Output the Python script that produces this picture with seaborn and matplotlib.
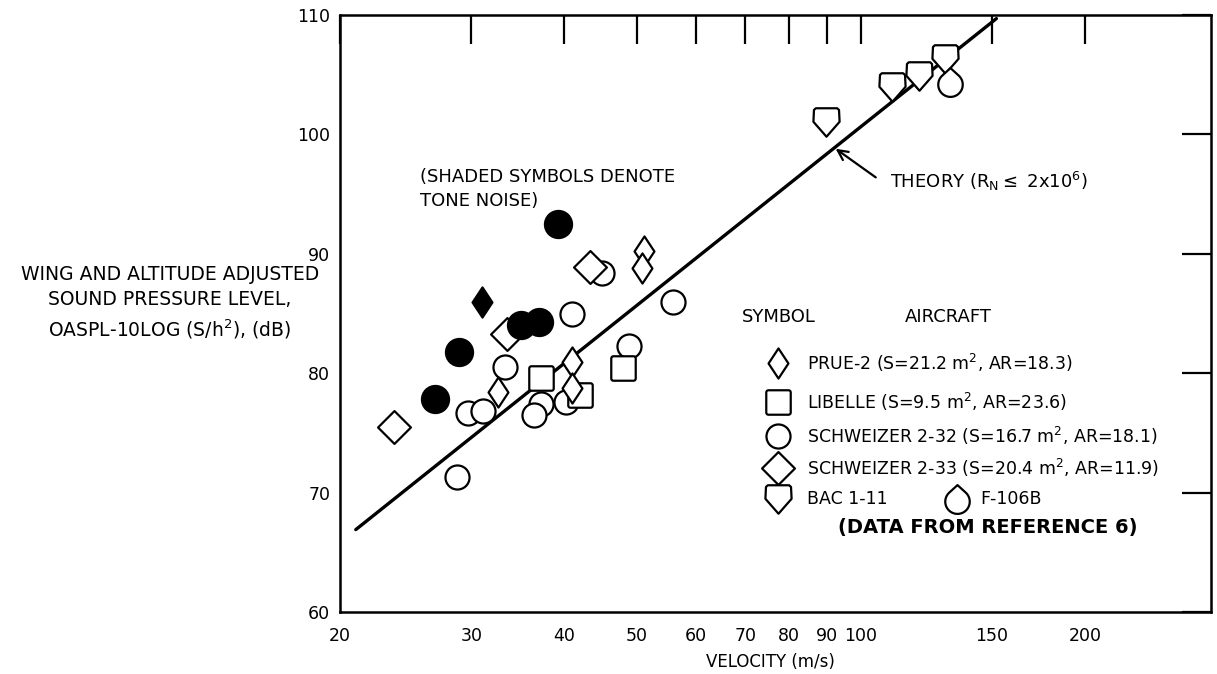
import numpy as np
import pandas as pd
import matplotlib
matplotlib.use("Agg")
import matplotlib.pyplot as plt
from matplotlib.path import Path
import seaborn as sns

# ---- measured data: velocity (m/s) and adjusted OASPL (dB) ----
prue_v = [32.6, 41.0, 41.0, 51.1, 50.8]
prue_db = [78.4, 80.9, 78.8, 90.2, 88.8]
prue_tone_v = [31.0]
prue_tone_db = [86.0]

libelle_v = [37.2, 42.0, 47.9]
libelle_db = [79.6, 78.2, 80.4]

s232_v = [28.7, 33.3, 29.7, 31.1, 37.2, 36.4, 40.2, 48.9, 44.9, 41.0, 56.0]
s232_db = [71.3, 80.5, 76.7, 76.8, 77.4, 76.5, 77.6, 82.3, 88.4, 85.0, 86.0]
s232_tone_v = [26.8, 28.9, 39.2, 35.0, 37.0]
s232_tone_db = [77.8, 81.8, 92.5, 84.0, 84.3]

s233_v = [23.6, 43.3, 33.5]
s233_db = [75.5, 88.9, 83.3]

bac_v = [89.7, 110.0, 119.6, 129.6]
bac_db = [101.0, 104.0, 104.9, 106.3]

f106_v = [131.8]
f106_db = [104.4]

# theory line, OASPL ~ 50 log V
theory_v = [21.0, 152.0]
theory_db = [66.9, 109.7]

x_ticks = [20, 30, 40, 50, 60, 70, 80, 90, 100, 150, 200]
y_ticks = [60, 70, 80, 90, 100, 110]

# ---- marker shapes ----
def poly_marker(pts):
    pts = list(pts) + [pts[0]]
    codes = [Path.MOVETO] + [Path.LINETO] * (len(pts) - 2) + [Path.CLOSEPOLY]
    return Path(pts, codes)

def rounded_square(rad=0.18, n=8):
    pts = []
    for cx, cy, a0 in [(1 - rad, 1 - rad, 0), (-1 + rad, 1 - rad, 90),
                       (-1 + rad, -1 + rad, 180), (1 - rad, -1 + rad, 270)]:
        for a in np.radians(np.linspace(a0, a0 + 90, n)):
            pts.append((cx + rad * np.cos(a), cy + rad * np.sin(a)))
    return poly_marker(pts)

tall_diamond = poly_marker([(0, 1), (0.66, 0), (0, -1), (-0.66, 0)])
wide_diamond = poly_marker([(0, 1), (1, 0), (0, -1), (-1, 0)])
shield = poly_marker([(-0.88, 0.88), (-0.75, 1.0), (0.75, 1.0), (0.88, 0.88),
                      (0.92, 0.05), (0.0, -1.0), (-0.92, 0.05)])
box = rounded_square()
# pointed top with a rounded bottom
_r, _c = 0.85, -0.15
_d = 1.0 - _c
_half = np.degrees(np.arccos(_r / _d))
_start = 90 - _half
_ang = np.radians(np.linspace(_start, _start - (360 - 2 * _half), 48))
_arc = [(_r * np.cos(a), _r * np.sin(a) + _c) for a in _ang]
drop = poly_marker([(0, 1.0)] + _arc)

sns.set_theme(style="white")
plt.rcParams["font.family"] = ["DejaVu Sans"]
plt.rcParams["mathtext.default"] = "regular"
plt.rcParams["text.color"] = "black"
plt.rcParams["xtick.color"] = "black"
plt.rcParams["ytick.color"] = "black"

W, H = 1217, 674
fig = plt.figure(figsize=(W / 100, H / 100), dpi=100)
L_PX, R_PX, T_PX, B_PX = 340, 1211, 15, 612
ax = fig.add_axes([L_PX / W, 1 - B_PX / H, (R_PX - L_PX) / W, (B_PX - T_PX) / H])
ax.set_xscale("log")
ax.set_xlim(20, 295)
ax.set_ylim(60, 110)

EW = 1.6
def draw(v, db, marker, size, face="white", z=3):
    sns.scatterplot(x=v, y=db, marker=marker, s=size, color=face,
                    edgecolor="black", linewidth=EW, ax=ax, zorder=z,
                    legend=False)

sns.lineplot(x=theory_v, y=theory_db, color="black", linewidth=2.4,
             ax=ax, zorder=2, legend=False)

draw(s232_v, s232_db, "o", 300)
draw(libelle_v, libelle_db, box, 310)
draw(prue_v, prue_db, tall_diamond, 470)
draw(s233_v, s233_db, wide_diamond, 560)
draw(s232_tone_v, s232_tone_db, "o", 380, face="black", z=4)
draw(prue_tone_v, prue_tone_db, tall_diamond, 470, face="black", z=4)
draw(bac_v, bac_db, shield, 420)
draw(f106_v, f106_db, drop, 430)

# ---- axes styling ----
for sp in ax.spines.values():
    sp.set_linewidth(1.8)
    sp.set_color("black")
ax.xaxis.set_minor_locator(matplotlib.ticker.NullLocator())
ax.set_xticks(x_ticks)
ax.set_xticklabels([str(t) for t in x_ticks])
ax.set_yticks(y_ticks)
ax.set_yticklabels([str(t) for t in y_ticks])
ax.tick_params(axis="both", which="major", direction="in", length=21,
               width=1.6, color="black", top=True, right=True,
               labelsize=12.5, labelcolor="black")
ax.tick_params(axis="x", pad=11)
ax.tick_params(axis="y", pad=7)
ax.set_xlabel("")
ax.set_ylabel("")

def fx(px):
    return px / W

def fy(py):
    return 1 - py / H

TXT = 13
fig.text(fx(770), fy(662), "VELOCITY (m/s)", ha="center", va="center",
         fontsize=12)
fig.text(fx(170), fy(303),
         "WING AND ALTITUDE ADJUSTED\nSOUND PRESSURE LEVEL,\nOASPL-10LOG (S/h$^{2}$), (dB)",
         ha="center", va="center", fontsize=13.5, linespacing=1.45)

fig.text(fx(420), fy(177), "(SHADED SYMBOLS DENOTE", ha="left",
         va="center", fontsize=TXT)
fig.text(fx(420), fy(201), "TONE NOISE)", ha="left", va="center",
         fontsize=TXT)

# theory label and arrow
fig.text(fx(890), fy(181), r"THEORY (R$_{N}$$\leq$ 2x10$^{6}$)", ha="left",
         va="center", fontsize=TXT)
ax.annotate("", xy=(92.5, 98.8), xytext=(104.7, 96.4),
            arrowprops=dict(arrowstyle="->", lw=1.6, color="black",
                            mutation_scale=18, shrinkA=0, shrinkB=0))

# ---- symbol key ----
fig.text(fx(742), fy(317), "SYMBOL", ha="left", va="center", fontsize=TXT)
fig.text(fx(905), fy(317), "AIRCRAFT", ha="left", va="center", fontsize=TXT)

KEY = 12.5
key_rows = [
    (363, tall_diamond, 470, "PRUE-2 (S=21.2 m$^{2}$, AR=18.3)"),
    (402, box, 310, "LIBELLE (S=9.5 m$^{2}$, AR=23.6)"),
    (436, "o", 300, "SCHWEIZER 2-32 (S=16.7 m$^{2}$, AR=18.1)"),
    (468, wide_diamond, 560, "SCHWEIZER 2-33 (S=20.4 m$^{2}$, AR=11.9)"),
    (499, shield, 420, "BAC 1-11"),
]
for ypx, mk, size, label in key_rows:
    ax.scatter([(778 - L_PX) / (R_PX - L_PX)], [(B_PX - ypx) / (B_PX - T_PX)],
               marker=mk, s=size, facecolor="white", edgecolor="black",
               linewidth=EW, transform=ax.transAxes, clip_on=False, zorder=5)
    fig.text(fx(807), fy(ypx), label, ha="left", va="center", fontsize=KEY)

ax.scatter([(957 - L_PX) / (R_PX - L_PX)], [(B_PX - 499) / (B_PX - T_PX)],
           marker=drop, s=430, facecolor="white", edgecolor="black",
           linewidth=EW, transform=ax.transAxes, clip_on=False, zorder=5)
fig.text(fx(980), fy(499), "F-106B", ha="left", va="center", fontsize=KEY)

fig.text(fx(838), fy(527), "(DATA FROM REFERENCE 6)", ha="left",
         va="center", fontsize=14, fontweight="bold")

fig.savefig("out.png", dpi=100, facecolor="white")
